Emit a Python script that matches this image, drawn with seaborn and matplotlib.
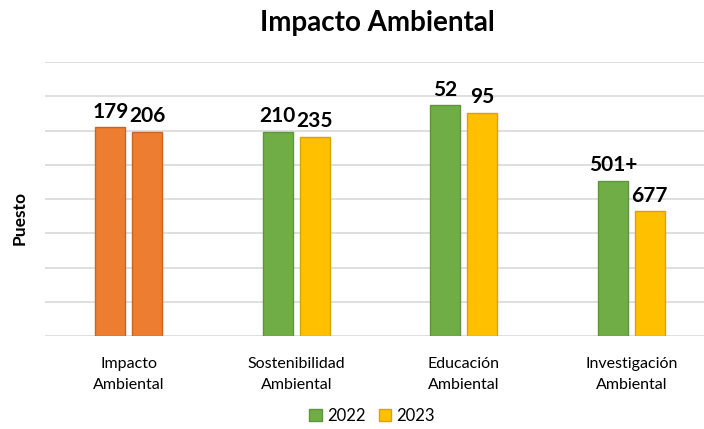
import pandas as pd
import seaborn as sns
import matplotlib.pyplot as plt
from matplotlib.patches import Patch

# bar heights as drawn (axis has no tick labels), with the rank shown on top
categories = ['Impacto\nAmbiental', 'Sostenibilidad\nAmbiental', 'Educación\nAmbiental', 'Investigación\nAmbiental']
years = ['2022', '2023']
heights_2022 = [6.09, 5.96, 6.74, 4.53]
heights_2023 = [5.96, 5.82, 6.52, 3.64]
labels_2022 = ['179', '210', '52', '501+']
labels_2023 = ['206', '235', '95', '677']

green = '#70AD47'
gold = '#FFC000'
orange = '#ED7D31'

df = pd.DataFrame({
    'categoria': categories * 2,
    'year': [years[0]] * 4 + [years[1]] * 4,
    'altura': heights_2022 + heights_2023,
})

sns.set_style('white')
plt.rcParams['font.family'] = ['Lato', 'DejaVu Sans']
plt.rcParams['text.color'] = 'black'
plt.rcParams['xtick.color'] = 'black'

fig = plt.figure(figsize=(7.04, 4.29), dpi=100)
ax = fig.add_axes([45 / 704, 93 / 429, 670 / 704, 274 / 429])

sns.barplot(data=df, x='categoria', y='altura', hue='year', palette=[green, gold],
            width=0.44, gap=0.19, ax=ax, legend=False, zorder=3)

edge = {green: '#5E9539', gold: '#D9A300', orange: '#C9651F'}
for i, cont in enumerate(ax.containers):
    base = green if i == 0 else gold
    for j, bar in enumerate(cont):
        col = orange if j == 0 else base
        bar.set_facecolor(col)
        bar.set_edgecolor(edge[col])
        bar.set_linewidth(1)

ax.bar_label(ax.containers[0], labels=labels_2022, padding=4, fontsize=15, fontweight='bold', color='black')
ax.bar_label(ax.containers[1], labels=labels_2023, padding=4, fontsize=15, fontweight='bold', color='black')

ax.set_ylim(0, 8)
ax.set_xlim(-0.5, 3.5)
ax.set_yticks(range(0, 9))
ax.set_yticklabels([])
ax.yaxis.grid(True, color='#D9D9D9', linewidth=1.2, zorder=0)
ax.tick_params(axis='both', length=0)
ax.tick_params(axis='x', pad=15, labelsize=11.5, labelcolor='black')
for lab in ax.get_xticklabels():
    lab.set_linespacing(1.65)
ax.set_xlabel('')
ax.set_ylabel('')
sns.despine(ax=ax, left=True, right=True, top=True, bottom=True)

fig.text(377 / 704, 1 - 23 / 429, 'Impacto Ambiental', ha='center', va='center',
         fontsize=20, fontweight='bold', color='black')
fig.text(20 / 704, 1 - 218 / 429, 'Puesto', ha='center', va='center', rotation=90,
         fontsize=12.5, fontweight='bold', color='black')

handles = [Patch(facecolor=green, edgecolor=edge[green]), Patch(facecolor=gold, edgecolor=edge[gold])]
fig.legend(handles, years, loc='center', bbox_to_anchor=(372 / 704, 13 / 429), ncol=2,
           frameon=False, fontsize=12, handlelength=0.75, handleheight=0.75,
           handletextpad=0.3, columnspacing=0.8, labelcolor='black')

fig.savefig('out.png', dpi=100)
